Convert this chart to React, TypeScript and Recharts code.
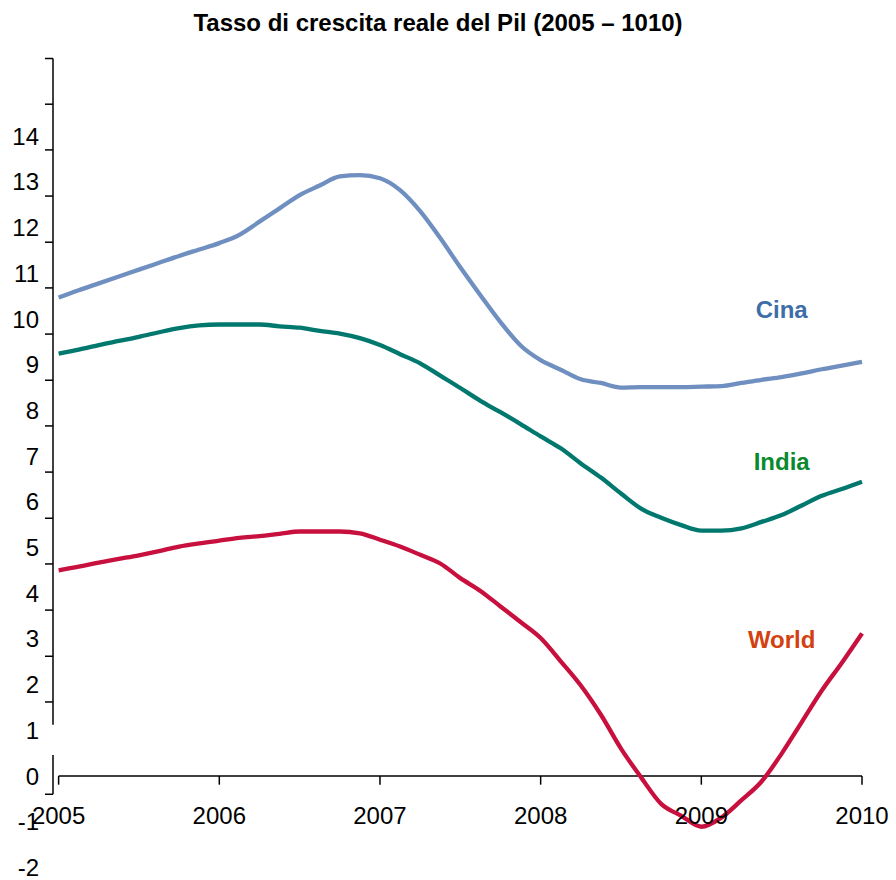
import React from 'react';
import {
  LineChart,
  Line,
  XAxis,
  YAxis,
  ReferenceLine,
  ReferenceDot,
} from 'recharts';

// readings every eighth of a year, 2005 - 2010
const years = [
  2005, 2005.125, 2005.25, 2005.375, 2005.5, 2005.625, 2005.75, 2005.875,
  2006, 2006.125, 2006.25, 2006.375, 2006.5, 2006.625, 2006.75, 2006.875,
  2007, 2007.125, 2007.25, 2007.375, 2007.5, 2007.625, 2007.75, 2007.875,
  2008, 2008.125, 2008.25, 2008.375, 2008.5, 2008.625, 2008.75, 2008.875,
  2009, 2009.125, 2009.25, 2009.375, 2009.5, 2009.625, 2009.75, 2009.875,
  2010,
];
const cina = [
  10.47, 10.63, 10.78, 10.93, 11.08, 11.23, 11.38, 11.52,
  11.66, 11.84, 12.13, 12.42, 12.71, 12.92, 13.12, 13.15,
  13.08, 12.82, 12.36, 11.77, 11.13, 10.52, 9.93, 9.42,
  9.1, 8.89, 8.68, 8.6, 8.5, 8.51, 8.51, 8.51,
  8.52, 8.53, 8.6, 8.67, 8.73, 8.81, 8.9, 8.98,
  9.06,
];
const india = [
  9.24, 9.33, 9.43, 9.52, 9.61, 9.71, 9.8, 9.86,
  9.88, 9.88, 9.88, 9.84, 9.81, 9.74, 9.68, 9.58,
  9.43, 9.23, 9.03, 8.76, 8.49, 8.21, 7.96, 7.7,
  7.43, 7.17, 6.84, 6.53, 6.18, 5.85, 5.65, 5.49,
  5.37, 5.37, 5.42, 5.56, 5.71, 5.92, 6.13, 6.28,
  6.44,
];
const world = [
  4.5, 4.58, 4.67, 4.75, 4.83, 4.92, 5.02, 5.09,
  5.15, 5.21, 5.25, 5.3, 5.35, 5.35, 5.35, 5.31,
  5.17, 5.02, 4.84, 4.65, 4.33, 4.05, 3.71, 3.37,
  3.02, 2.51, 1.98, 1.34, 0.6, -0.03, -0.61, -0.87,
  -1.11, -0.91, -0.53, -0.12, 0.49, 1.18, 1.87, 2.48,
  3.12,
];

const yearTicks = [2005, 2006, 2007, 2008, 2009, 2010];
const valueTicks = [-2, -1, 0, 1, 2, 3, 4, 5, 6, 7, 8, 9, 10, 11, 12, 13, 14];
// tick marks of the drawn axis sit between the labels
const frameTicks = [15.7, 14.7, 13.7, 12.69, 11.68, 10.68, 9.67, 8.66, 7.66, 6.65, 5.64, 4.64, 3.63, 2.62, 1.62, -0.4];

const seriesLabels = [
  { name: 'Cina', year: 2009.5, value: 10.2, color: '#3d6ea8' },
  { name: 'India', year: 2009.5, value: 6.88, color: '#0a8a2e' },
  { name: 'World', year: 2009.5, value: 2.98, color: '#d2410f' },
];

const data = years.map((year, i) => ({
  year,
  cina: cina[i],
  india: india[i],
  world: world[i],
}));

const FONT = '"Liberation Sans", Arial, sans-serif';
const X_MIN = 2004.965;
const TICK_START = 2004.915;
const Y_DOMAIN: [number, number] = [-2, 15.7];

export default function App() {
  return (
    <div style={{ position: 'absolute', left: 0, top: 0, width: 896, height: 880, background: '#fff' }}>
      <div
        style={{
          position: 'absolute',
          left: 0,
          top: 11,
          width: 876,
          textAlign: 'center',
          fontFamily: FONT,
          fontWeight: 'bold',
          fontSize: 24,
          lineHeight: '24px',
          color: '#000',
        }}
      >
        Tasso di crescita reale del Pil (2005 – 1010)
      </div>
      <LineChart
        width={896}
        height={880}
        data={data}
        margin={{ top: 58.5, right: 34, bottom: 12.6, left: 0 }}
      >
        <XAxis type="number" dataKey="year" domain={[X_MIN, 2010]} hide />
        <YAxis
          domain={Y_DOMAIN}
          ticks={valueTicks}
          interval={0}
          width={53}
          tickLine={false}
          axisLine={false}
          tickMargin={8}
          tick={{ fontSize: 24, fill: '#000', fontFamily: FONT }}
        />

        {/* vertical axis line, broken near the "1" label */}
        <ReferenceLine
          segment={[{ x: X_MIN, y: 15.7 }, { x: X_MIN, y: 1.12 }]}
          stroke="#000"
          strokeWidth={1.5}
        />
        <ReferenceLine
          segment={[{ x: X_MIN, y: 0.46 }, { x: X_MIN, y: -0.4 }]}
          stroke="#000"
          strokeWidth={1.5}
        />
        {frameTicks.map((t) => (
          <ReferenceLine
            key={`ft-${t}`}
            segment={[{ x: TICK_START, y: t }, { x: X_MIN, y: t }]}
            stroke="#000"
            strokeWidth={1.5}
            ifOverflow="visible"
          />
        ))}

        {/* horizontal axis at zero */}
        <ReferenceLine
          segment={[{ x: 2005, y: 0 }, { x: 2010, y: 0 }]}
          stroke="#000"
          strokeWidth={1.5}
        />
        {yearTicks.map((yr) => (
          <ReferenceLine
            key={yr}
            segment={[{ x: yr, y: 0 }, { x: yr, y: -0.19 }]}
            stroke="#000"
            strokeWidth={1.5}
            label={{
              value: String(yr),
              position: 'bottom',
              offset: 22,
              fontSize: 24,
              fill: '#000',
              fontFamily: FONT,
            }}
          />
        ))}

        <Line type="monotone" dataKey="cina" stroke="#6f8fc0" strokeWidth={4.3} dot={false} isAnimationActive={false} />
        <Line type="monotone" dataKey="india" stroke="#00786e" strokeWidth={4.3} dot={false} isAnimationActive={false} />
        <Line type="monotone" dataKey="world" stroke="#c8103e" strokeWidth={4.3} dot={false} isAnimationActive={false} />

        {seriesLabels.map((s) => (
          <ReferenceDot
            key={s.name}
            x={s.year}
            y={s.value}
            r={0}
            fill="none"
            stroke="none"
            label={{
              value: s.name,
              position: 'center',
              fontSize: 24,
              fontWeight: 'bold',
              fill: s.color,
              fontFamily: FONT,
            }}
          />
        ))}
      </LineChart>
    </div>
  );
}
